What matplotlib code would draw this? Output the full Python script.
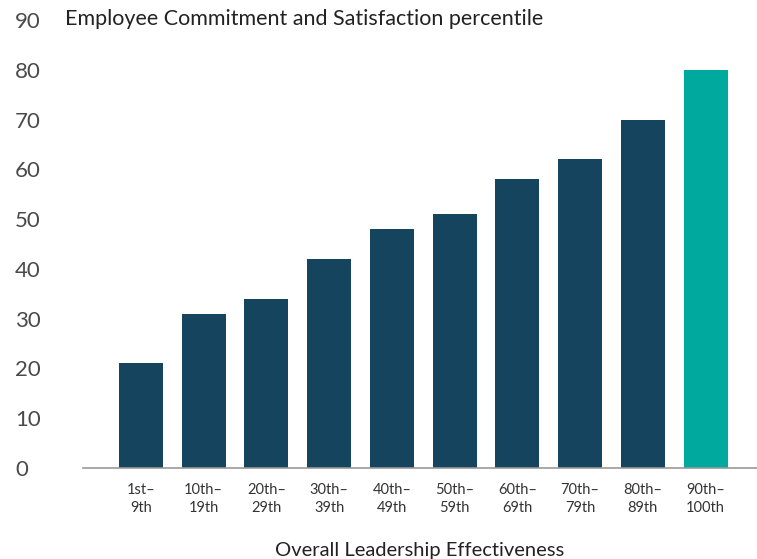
import numpy as np
import matplotlib.pyplot as plt

plt.rcParams['font.family'] = ['Lato', 'DejaVu Sans']

# Données du graphique
categories = ['1st–\n9th', '10th–\n19th', '20th–\n29th', '30th–\n39th', '40th–\n49th',
              '50th–\n59th', '60th–\n69th', '70th–\n79th', '80th–\n89th', '90th–\n100th']
values = [21, 31, 34, 42, 48, 51, 58, 62, 70, 80]
highlight = '90th–\n100th'

navy = '#15445f'
teal = '#00a99d'
colors = [teal if c == highlight else navy for c in categories]

fig = plt.figure(figsize=(7.57, 5.59), dpi=100)
ax = fig.add_axes([0.1096, 0.1628, 0.8904, 0.8012])

x = np.arange(len(categories))
ax.bar(x, values, width=0.70, color=colors, zorder=2)

ax.set_xlim(-0.925, 9.82)
ax.set_ylim(0, 90)
ax.set_yticks(np.arange(0, 91, 10))
ax.set_xticks(x)
ax.set_xticklabels(categories, fontsize=10.5, color='#333333', linespacing=1.3)
ax.tick_params(axis='y', length=0, pad=49, labelsize=16, labelcolor='#4a4a4a')
ax.tick_params(axis='x', length=0, pad=11)
for lbl in ax.get_yticklabels():
    lbl.set_horizontalalignment('left')

for s in ['top', 'right', 'left']:
    ax.spines[s].set_visible(False)
ax.spines['bottom'].set_color('#999999')
ax.spines['bottom'].set_linewidth(1.2)

ax.set_xlabel('Overall Leadership Effectiveness', fontsize=14.5, color='#222222', labelpad=20)
fig.text(0.086, 0.966, 'Employee Commitment and Satisfaction percentile',
         fontsize=15.5, color='#222222', va='center', ha='left')

fig.savefig('out.png', dpi=100)
